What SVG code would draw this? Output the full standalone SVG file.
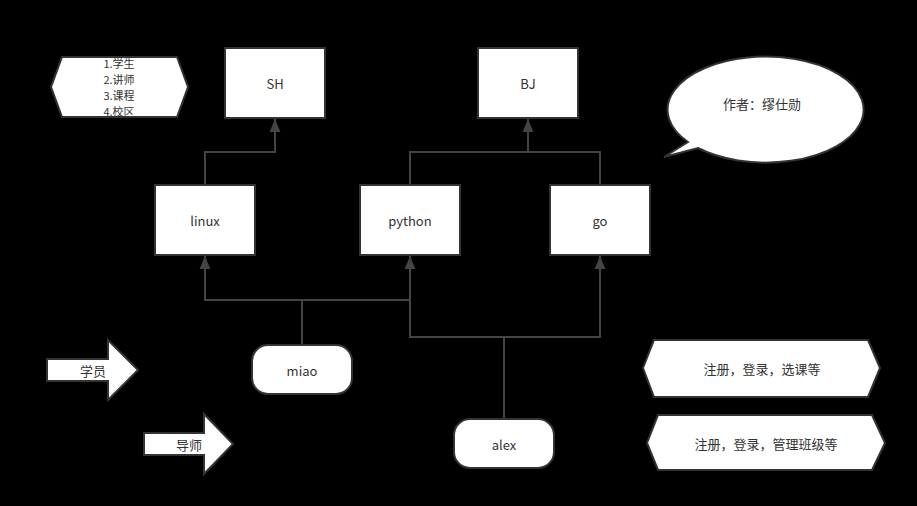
<svg xmlns="http://www.w3.org/2000/svg" width="917" height="506" viewBox="0 0 917 506">
<defs>
<style>
.s{fill:#ffffff;stroke:#333333;stroke-width:2}
.t{font-family:"Noto Sans CJK SC","Noto Sans",sans-serif;font-size:13px;fill:#333333;text-anchor:middle;dominant-baseline:central}
.l{font-size:11px}
.c{fill:none;stroke:#444444;stroke-width:2}
</style>
<marker id="a" viewBox="0 0 12 10" refX="12" refY="5" markerWidth="13" markerHeight="12" orient="auto" markerUnits="userSpaceOnUse">
<path d="M0,0 L12,5 L0,10 Z" fill="#444444"/>
</marker>
</defs>
<rect width="917" height="506" fill="#000000"/>

<g id="connectors">
<path class="c" d="M205,185 V152 H275 V119" marker-end="url(#a)"/>
<path class="c" d="M410,185 V152 H600 V185"/>
<path class="c" d="M528,152 V119" marker-end="url(#a)"/>
<path class="c" d="M302,345 V300 H205 V256" marker-end="url(#a)"/>
<path class="c" d="M302,300 H410"/>
<path class="c" d="M504,419 V337 H410 V256" marker-end="url(#a)"/>
<path class="c" d="M504,337 H600 V256" marker-end="url(#a)"/>
</g>

<g id="legend">
<polygon class="s" points="62,57 177,57 188,87 177,117 62,117 51,87"/>
<text class="t l" x="119" y="63">1.学生</text>
<text class="t l" x="119" y="79">2.讲师</text>
<text class="t l" x="119" y="95">3.课程</text>
<text class="t l" x="119" y="111">4.校区</text>
</g>

<g id="SH">
<rect class="s" x="225" y="48" width="100" height="70"/>
<text class="t" x="275" y="83">SH</text>
</g>
<g id="BJ">
<rect class="s" x="478" y="48" width="100" height="70"/>
<text class="t" x="528" y="83">BJ</text>
</g>

<g id="author">
<path class="s" d="M688,142 A98,53 0 1 1 698,148 L664,157 Z"/>
<text class="t" x="762" y="103">作者：缪仕勋</text>
</g>

<g id="linux">
<rect class="s" x="155" y="185" width="100" height="70"/>
<text class="t" x="205" y="220">linux</text>
</g>
<g id="python">
<rect class="s" x="360" y="185" width="100" height="70"/>
<text class="t" x="410" y="220">python</text>
</g>
<g id="go">
<rect class="s" x="550" y="185" width="100" height="70"/>
<text class="t" x="600" y="220">go</text>
</g>

<g id="miao">
<rect class="s" x="252" y="345" width="100" height="49" rx="16" ry="16"/>
<text class="t" x="302" y="370">miao</text>
</g>
<g id="alex">
<rect class="s" x="454" y="419" width="100" height="49" rx="16" ry="16"/>
<text class="t" x="504" y="444">alex</text>
</g>

<g id="student">
<polygon class="s" points="47,359 108,359 108,340 138,370 108,400 108,381 47,381"/>
<text class="t" x="93" y="370">学员</text>
</g>
<g id="teacher">
<polygon class="s" points="144,433 204,433 204,414 233,444 204,474 204,455 144,455"/>
<text class="t" x="189" y="444">导师</text>
</g>

<g id="student-desc">
<polygon class="s" points="654,340 868,340 880,368 868,397 654,397 643,368"/>
<text class="t" x="762" y="368">注册，登录，选课等</text>
</g>
<g id="teacher-desc">
<polygon class="s" points="658,415 872,415 885,443 872,470 658,470 647,443"/>
<text class="t" x="766" y="443">注册，登录，管理班级等</text>
</g>
</svg>
